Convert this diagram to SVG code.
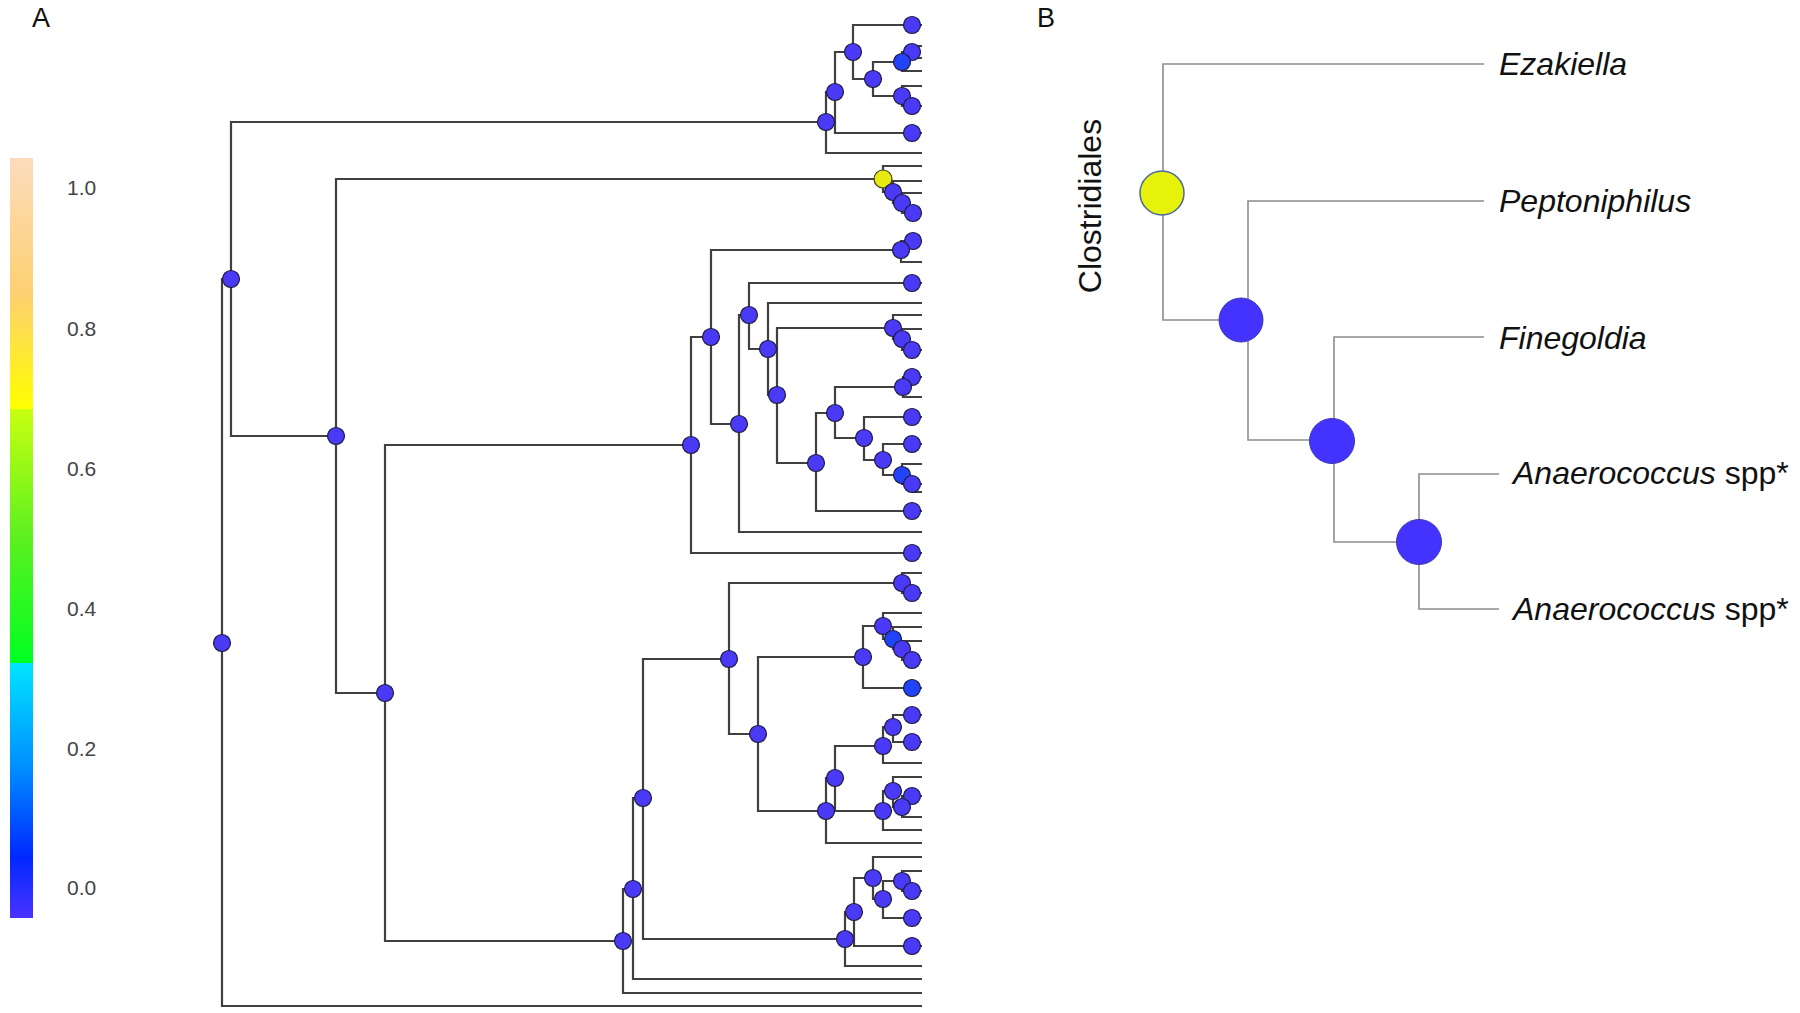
<svg xmlns="http://www.w3.org/2000/svg" width="1800" height="1013" viewBox="0 0 1800 1013">
<defs>
<style>
.br{fill:none;stroke:#404040;stroke-width:2.2;stroke-linejoin:miter}
.nd{fill:#4a3af5;stroke:#1c1c40;stroke-width:1.2}
.nb{fill:#2244f8;stroke:#1c1c40;stroke-width:1.2}
.ny{fill:#e6ea10;stroke:#3a3a20;stroke-width:1.2}
.bl{fill:none;stroke:#8c8c8c;stroke-width:1.6}
.bn{fill:#4433ff;stroke:#3a3ab0;stroke-width:1}
.lab{font-family:"Liberation Sans",Arial,sans-serif;font-size:32px;fill:#111}
.it{font-style:italic}
.tick{font-family:"Liberation Sans",Arial,sans-serif;font-size:21px;fill:#444}
.pl{font-family:"Liberation Sans",Arial,sans-serif;font-size:27px;fill:#111}
</style>
<linearGradient id="cbar" x1="0" y1="0" x2="0" y2="1">
<stop offset="0" stop-color="#fcdcbe"/>
<stop offset="0.18" stop-color="#fdd070"/>
<stop offset="0.33" stop-color="#ffff00"/>
<stop offset="0.331" stop-color="#c8ff10"/>
<stop offset="0.5" stop-color="#5cf020"/>
<stop offset="0.664" stop-color="#00ff22"/>
<stop offset="0.665" stop-color="#00e4ff"/>
<stop offset="0.8" stop-color="#0090ff"/>
<stop offset="0.92" stop-color="#0028ff"/>
<stop offset="1" stop-color="#4a33ff"/>
</linearGradient>
</defs>
<rect width="1800" height="1013" fill="#ffffff"/>

<text class="pl" x="32" y="27">A</text>
<text class="pl" x="1037" y="27">B</text>

<g id="colorbar">
<rect x="10" y="158" width="23" height="760" fill="url(#cbar)"/>
<text class="tick" x="67" y="195">1.0</text>
<text class="tick" x="67" y="336">0.8</text>
<text class="tick" x="67" y="476">0.6</text>
<text class="tick" x="67" y="616">0.4</text>
<text class="tick" x="67" y="756">0.2</text>
<text class="tick" x="67" y="895">0.0</text>
</g>

<g id="connectors">
<path class="br" d="M231,279 H222 V1006 H922"/>
<path class="br" d="M826,122 H231 V436 H336"/>
<path class="br" d="M835,92 H826 V153 H922"/>
<path class="br" d="M853,52 H835 V133 H922"/>
<path class="br" d="M922,25 H853 V79 H873"/>
<path class="br" d="M902,62 H873 V96 H902"/>
<path class="br" d="M912,52 H902 V71 H922"/>
<path class="br" d="M922,46 H913 V58 H922"/>
<path class="br" d="M922,86 H902 V106 H922"/>
<path class="br" d="M883,179 H336 V693 H385"/>
<path class="br" d="M922,166 H883 V192 H893"/>
<path class="br" d="M922,181 H893 V203 H902"/>
<path class="br" d="M922,193 H902 V213 H922"/>
<path class="br" d="M691,445 H385 V941 H623"/>
<path class="br" d="M711,337 H691 V553 H922"/>
<path class="br" d="M901,250 H711 V424 H739"/>
<path class="br" d="M913,241 H901 V262 H922"/>
<path class="br" d="M913,241 H922"/>
<path class="br" d="M749,315 H739 V532 H922"/>
<path class="br" d="M922,283 H749 V349 H768"/>
<path class="br" d="M922,303 H768 V395 H777"/>
<path class="br" d="M893,328 H777 V463 H816"/>
<path class="br" d="M922,315 H893 V339 H902"/>
<path class="br" d="M922,329 H902 V350 H922"/>
<path class="br" d="M835,413 H816 V511 H922"/>
<path class="br" d="M903,387 H835 V438 H864"/>
<path class="br" d="M922,377 H903 V397 H922"/>
<path class="br" d="M922,417 H864 V460 H883"/>
<path class="br" d="M922,444 H883 V475 H902"/>
<path class="br" d="M922,464 H902 V484 H922"/>
<path class="br" d="M913,484 V492 H922"/>
<path class="br" d="M633,889 H623 V993 H922"/>
<path class="br" d="M643,798 H633 V979 H922"/>
<path class="br" d="M729,659 H643 V939 H845"/>
<path class="br" d="M902,583 H729 V734 H758"/>
<path class="br" d="M922,573 H902 V593 H922"/>
<path class="br" d="M863,657 H758 V811 H826"/>
<path class="br" d="M883,626 H863 V688 H922"/>
<path class="br" d="M922,613 H883 V639 H893"/>
<path class="br" d="M922,627 H893 V649 H902"/>
<path class="br" d="M922,641 H902 V660 H922"/>
<path class="br" d="M835,778 H826 V843 H922"/>
<path class="br" d="M883,746 H835 V811 H883"/>
<path class="br" d="M893,727 H883 V763 H922"/>
<path class="br" d="M922,715 H893 V742 H922"/>
<path class="br" d="M893,791 H883 V830 H922"/>
<path class="br" d="M922,777 H893 V807 H902"/>
<path class="br" d="M922,796 H902 V817 H922"/>
<path class="br" d="M854,912 H845 V966 H922"/>
<path class="br" d="M873,878 H854 V946 H922"/>
<path class="br" d="M922,857 H873 V899 H883"/>
<path class="br" d="M902,881 H883 V918 H922"/>
<path class="br" d="M922,871 H902 V891 H922"/>

<path class="bl" d="M1484,64 H1163 V320 H1241"/>
<path class="bl" d="M1484,201 H1248 V440 H1333"/>
<path class="bl" d="M1484,337 H1334 V542 H1419"/>
<path class="bl" d="M1499,474 H1419 V609 H1499"/>
</g>

<g id="nodesA">
<g id="a-root"><circle class="nd" cx="222" cy="643" r="8.5"/></g>
<g id="a-n1"><circle class="nd" cx="231" cy="279" r="8.5"/></g>
<g id="a-a1"><circle class="nd" cx="826" cy="122" r="8.5"/></g>
<g id="a-a2"><circle class="nd" cx="835" cy="92" r="8.5"/></g>
<g id="a-a3"><circle class="nd" cx="853" cy="52" r="8.5"/></g>
<g id="a-a4"><circle class="nd" cx="873" cy="79" r="8.5"/></g>
<g id="a-t25"><circle class="nd" cx="912" cy="25" r="8.5"/></g>
<g id="a-t52"><circle class="nd" cx="912" cy="52" r="8.5"/></g>
<g id="a-t62"><circle class="nb" cx="902" cy="62" r="8.5"/></g>
<g id="a-t96"><circle class="nd" cx="902" cy="96" r="8.5"/></g>
<g id="a-t106"><circle class="nd" cx="912" cy="106" r="8.5"/></g>
<g id="a-t133"><circle class="nd" cx="912" cy="133" r="8.5"/></g>
<g id="a-n2"><circle class="nd" cx="336" cy="436" r="8.5"/></g>
<g id="a-y"><circle class="ny" cx="883" cy="179" r="9"/></g>
<g id="a-y2"><circle class="nd" cx="893" cy="192" r="8.5"/></g>
<g id="a-y3"><circle class="nd" cx="902" cy="203" r="8.5"/></g>
<g id="a-y4"><circle class="nd" cx="913" cy="213" r="8.5"/></g>
<g id="a-n3"><circle class="nd" cx="385" cy="693" r="8.5"/></g>
<g id="a-m1"><circle class="nd" cx="691" cy="445" r="8.5"/></g>
<g id="a-m2"><circle class="nd" cx="711" cy="337" r="8.5"/></g>
<g id="a-t241"><circle class="nd" cx="913" cy="241" r="8.5"/></g>
<g id="a-t250"><circle class="nd" cx="901" cy="250" r="8.5"/></g>
<g id="a-m3"><circle class="nd" cx="739" cy="424" r="8.5"/></g>
<g id="a-m4"><circle class="nd" cx="749" cy="315" r="8.5"/></g>
<g id="a-t283"><circle class="nd" cx="912" cy="283" r="8.5"/></g>
<g id="a-m5"><circle class="nd" cx="768" cy="349" r="8.5"/></g>
<g id="a-m6"><circle class="nd" cx="777" cy="395" r="8.5"/></g>
<g id="a-t328"><circle class="nd" cx="893" cy="328" r="8.5"/></g>
<g id="a-t339"><circle class="nd" cx="902" cy="339" r="8.5"/></g>
<g id="a-t350"><circle class="nd" cx="912" cy="350" r="8.5"/></g>
<g id="a-m7"><circle class="nd" cx="816" cy="463" r="8.5"/></g>
<g id="a-m8"><circle class="nd" cx="835" cy="413" r="8.5"/></g>
<g id="a-t377"><circle class="nd" cx="912" cy="377" r="8.5"/></g>
<g id="a-t387"><circle class="nd" cx="903" cy="387" r="8.5"/></g>
<g id="a-t417"><circle class="nd" cx="912" cy="417" r="8.5"/></g>
<g id="a-m9"><circle class="nd" cx="864" cy="438" r="8.5"/></g>
<g id="a-t444"><circle class="nd" cx="912" cy="444" r="8.5"/></g>
<g id="a-m10"><circle class="nd" cx="883" cy="460" r="8.5"/></g>
<g id="a-t475"><circle class="nb" cx="902" cy="475" r="8.5"/></g>
<g id="a-t484"><circle class="nd" cx="912" cy="484" r="8.5"/></g>
<g id="a-t511"><circle class="nd" cx="912" cy="511" r="8.5"/></g>
<g id="a-t553"><circle class="nd" cx="912" cy="553" r="8.5"/></g>
<g id="a-b1"><circle class="nd" cx="623" cy="941" r="8.5"/></g>
<g id="a-b2"><circle class="nd" cx="633" cy="889" r="8.5"/></g>
<g id="a-b3"><circle class="nd" cx="643" cy="798" r="8.5"/></g>
<g id="a-b4"><circle class="nd" cx="729" cy="659" r="8.5"/></g>
<g id="a-t583"><circle class="nd" cx="902" cy="583" r="8.5"/></g>
<g id="a-t593"><circle class="nd" cx="912" cy="593" r="8.5"/></g>
<g id="a-b5"><circle class="nd" cx="758" cy="734" r="8.5"/></g>
<g id="a-b6"><circle class="nd" cx="863" cy="657" r="8.5"/></g>
<g id="a-b8"><circle class="nd" cx="883" cy="626" r="8.5"/></g>
<g id="a-t639"><circle class="nb" cx="893" cy="639" r="8.5"/></g>
<g id="a-t649"><circle class="nd" cx="902" cy="649" r="8.5"/></g>
<g id="a-t660"><circle class="nd" cx="912" cy="660" r="8.5"/></g>
<g id="a-t688"><circle class="nb" cx="912" cy="688" r="8.5"/></g>
<g id="a-t715"><circle class="nd" cx="912" cy="715" r="8.5"/></g>
<g id="a-t727"><circle class="nd" cx="893" cy="727" r="8.5"/></g>
<g id="a-t742"><circle class="nd" cx="912" cy="742" r="8.5"/></g>
<g id="a-b11"><circle class="nd" cx="883" cy="746" r="8.5"/></g>
<g id="a-b9"><circle class="nd" cx="835" cy="778" r="8.5"/></g>
<g id="a-t791"><circle class="nd" cx="893" cy="791" r="8.5"/></g>
<g id="a-t796"><circle class="nd" cx="912" cy="796" r="8.5"/></g>
<g id="a-t807"><circle class="nd" cx="902" cy="807" r="8.5"/></g>
<g id="a-b12"><circle class="nd" cx="883" cy="811" r="8.5"/></g>
<g id="a-b7"><circle class="nd" cx="826" cy="811" r="8.5"/></g>
<g id="a-b14"><circle class="nd" cx="873" cy="878" r="8.5"/></g>
<g id="a-t881"><circle class="nd" cx="902" cy="881" r="8.5"/></g>
<g id="a-t891"><circle class="nd" cx="912" cy="891" r="8.5"/></g>
<g id="a-b15"><circle class="nd" cx="883" cy="899" r="8.5"/></g>
<g id="a-b13"><circle class="nd" cx="854" cy="912" r="8.5"/></g>
<g id="a-t918"><circle class="nd" cx="912" cy="918" r="8.5"/></g>
<g id="a-b10"><circle class="nd" cx="845" cy="939" r="8.5"/></g>
<g id="a-t946"><circle class="nd" cx="912" cy="946" r="8.5"/></g>
</g>

<g id="nodesB">
<g id="b-clostridiales"><circle cx="1162" cy="193" r="22" style="fill:#e6f20a;stroke:#4a6a9a;stroke-width:1.5"/></g>
<g id="b-n2"><circle class="bn" cx="1241" cy="320" r="22"/></g>
<g id="b-n3"><circle class="bn" cx="1332" cy="441" r="22.5"/></g>
<g id="b-n4"><circle class="bn" cx="1419" cy="542" r="22.5"/></g>
</g>

<g id="labelsB">
<text class="lab" transform="translate(1101,206) rotate(-90)" text-anchor="middle">Clostridiales</text>
<text class="lab it" x="1499" y="75">Ezakiella</text>
<text class="lab it" x="1499" y="212">Peptoniphilus</text>
<text class="lab it" x="1499" y="349">Finegoldia</text>
<text class="lab" x="1513" y="484"><tspan class="it">Anaerococcus</tspan> spp*</text>
<text class="lab" x="1513" y="620"><tspan class="it">Anaerococcus</tspan> spp*</text>
</g>
</svg>
